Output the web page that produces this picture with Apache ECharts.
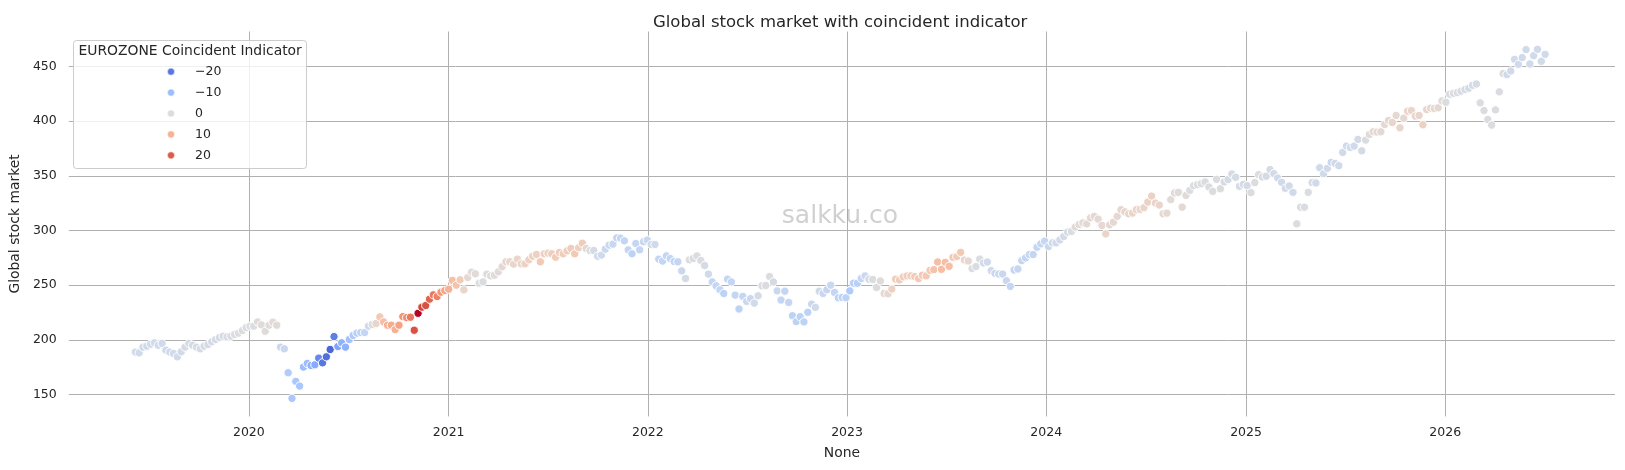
<!DOCTYPE html>
<html>
<head>
<meta charset="utf-8">
<title>Global stock market with coincident indicator</title>
<script src="https://cdn.jsdelivr.net/npm/echarts@6/dist/echarts.min.js"></script>
<style>
  html, body { margin: 0; padding: 0; background: #fff; }
  #chart { width: 1625px; height: 470px; }
</style>
</head>
<body>
<div id="chart"></div>
<script>
// weekly observations, first one on this date
const startDate = Date.UTC(2019, 5, 7);
const weekMs = 7 * 24 * 3600 * 1000;

// global stock market index, one value per week
const stockValues = [
  // 2019-06 .. 2020-02
  188.8, 188.1, 193.3, 194.2, 196.0, 197.3, 195.1, 196.7, 190.6, 188.8,
  187.5, 184.5, 189.1, 193.3, 196.7, 195.1, 193.3, 191.8, 194.2, 195.7,
  198.2, 200.3, 202.1, 203.3, 202.7, 203.3, 204.9, 206.1, 208.5, 211.2,
  212.5, 212.5, 216.4, 213.7, 207.9, 213.4, 216.1, 213.4,
  // crash and rebound 2020
  193.3, 191.8, 169.9, 146.5, 162.0, 157.7, 175.1, 178.4, 176.6, 177.2,
  183.3, 179.0, 184.5, 191.2, 203.0, 193.9, 197.3, 193.3, 200.3, 204.0,
  206.1, 206.7, 206.7, 212.5, 214.0, 214.9, 221.0, 216.4, 213.4, 213.4,
  209.4, 213.4, 221.3, 220.4, 220.7, 208.8, 224.3,
  // 2020-11 .. 2022-03
  229.9, 231.4, 237.2, 241.2, 239.6, 243.6, 245.1, 246.3, 254.3, 250.0,
  254.9, 245.7, 257.0, 261.9, 260.4, 251.8, 253.0, 260.1, 258.5, 259.1,
  262.2, 266.8, 271.4, 271.4, 269.2, 273.8, 269.5, 269.5, 273.2, 276.5,
  278.1, 271.4, 278.7, 279.3, 278.7, 275.6, 279.9, 278.7, 281.4, 283.6,
  278.7, 284.2, 288.4, 283.6, 281.7, 281.7, 276.5, 277.5, 282.9, 286.6,
  287.5, 293.3, 293.0, 290.6, 282.3, 278.7, 288.1, 282.3, 289.7, 291.2,
  287.2, 287.2, 273.8, 272.0, 276.8, 274.4, 271.7, 271.4, 263.1, 256.1,
  273.2, 274.4, 276.8, 272.6, 268.0, 260.1,
  // 2022-04 .. 2023-09
  253.0, 249.4, 245.8, 242.4, 255.5, 253.0, 240.9, 228.2, 239.7, 235.2,
  237.6, 233.6, 240.3, 249.4, 249.7, 257.9, 253.0, 244.8, 236.4, 244.5,
  234.2, 222.1, 216.7, 221.2, 216.4, 225.2, 232.7, 229.7, 244.5, 242.4,
  245.8, 250.0, 243.3, 238.5, 238.8, 238.5, 244.8, 251.8, 251.8, 256.1,
  258.5, 255.5, 255.2, 247.9, 253.9, 242.4, 242.1, 246.4, 255.5, 254.8,
  257.6, 258.5, 258.5, 257.9, 256.1, 259.1, 258.5, 263.6, 264.2, 271.2,
  264.5, 270.9, 267.3, 275.5, 276.1, 280.0, 273.0, 272.1, 265.2, 267.0,
  273.9, 270.3, 271.2,
  // 2023-09 .. 2025-02
  263.3, 260.8, 260.2, 260.2, 254.1, 248.9, 263.9, 264.8, 272.5, 274.9,
  278.0, 278.0, 284.7, 287.8, 290.2, 285.3, 288.7, 288.7, 291.4, 294.5,
  298.5, 299.1, 303.1, 305.5, 307.0, 306.1, 311.6, 312.9, 310.4, 304.6,
  296.9, 305.2, 307.6, 312.9, 319.0, 317.1, 315.3, 315.9, 319.0, 319.3,
  320.8, 326.0, 331.5, 325.1, 323.3, 315.3, 315.9, 328.2, 334.3, 334.9,
  321.4, 332.1, 336.7, 341.0, 341.9, 342.8, 344.4, 339.8, 335.8, 346.8,
  338.2, 344.4, 346.5, 351.7, 348.7, 340.4, 342.2, 341.0, 334.6, 343.8,
  351.1, 349.0, 349.6, 355.7, 352.0,
  // 2025-02 .. 2026-07
  348.0, 344.1, 338.6, 340.7, 334.9, 306.1, 321.3, 321.3, 334.9, 343.8,
  343.5, 357.4, 352.0, 356.8, 362.3, 361.4, 359.3, 371.4, 377.2, 376.0,
  377.2, 383.3, 372.9, 382.7, 387.8, 390.3, 390.0, 390.3, 397.0, 400.6,
  398.8, 405.2, 393.9, 402.7, 409.1, 409.7, 404.6, 405.2, 396.7, 410.6,
  411.9, 411.6, 412.2, 418.5, 417.3, 424.6, 425.5, 426.1, 427.4, 428.9,
  430.1, 432.8, 434.0, 416.7, 409.7, 401.5, 396.4, 410.3, 426.8, 443.5,
  442.6, 445.9, 456.5, 452.0, 458.1, 465.4, 452.3, 459.9, 465.7, 454.7,
  461.1
];

// EUROZONE coincident indicator, same weeks
const indicatorValues = [
  -2, -2, -2, -2, -2, -2, -2, -2, -2, -2,
  -2, -2, -2, -1, -1, -1, -1, -1, -1, -1,
  -1, -1, -1, -1, -1, 0, 0, 0, 0, 0,
  0, 0, 1, 1, 1, 1, 1, 1,
  -3, -3, -7, -8, -8, -8, -10, -10, -12, -13,
  -18, -20, -21, -22, -19, -14, -12, -12, -9, -7,
  -6, -5, -4, -2, 0, 3, 6, 8, 10, 11,
  10, 12, 14, 15, 17, 21, 26,
  22, 21, 19, 17, 16, 14, 12, 10, 8, 7,
  5, 3, 2, 1, 1, 0, 0, 0, 1, 1,
  1, 2, 2, 3, 3, 3, 3, 4, 4, 4,
  4, 6, 4, 4, 5, 5, 5, 5, 5, 5,
  6, 4, 5, 2, 0, -1, -2, -2, -3, -3,
  -3, -4, -4, -4, -4, -5, -4, -4, -3, -3,
  -2, -2, -4, -4, -4, -4, -4, -4, -3, -1,
  0, 0, 0, 0, -1, -2,
  -4, -4, -4, -5, -4, -4, -4, -5, -4, -3,
  -3, -2, -1, 0, 0, 0, -1, -3, -4, -4,
  -4, -5, -5, -5, -5, -5, -3, -2, -2, -3,
  -4, -3, -4, -5, -5, -5, -7, -6, -6, -4,
  -3, -1, 0, 0, 1, 2, 2, 4, 5, 5,
  5, 5, 5, 5, 6, 6, 6, 6, 7, 8,
  8, 8, 8, 6, 5, 6, 3, 2, 0, 0,
  0, -2, -2,
  -2, -3, -3, -3, -3, -4, -4, -4, -4, -4,
  -4, -4, -4, -4, -4, -3, -2, -2, -2, -1,
  -1, 0, 1, 1, 1, 2, 2, 2, 2, 2,
  3, 2, 2, 2, 3, 3, 3, 3, 3, 3,
  3, 4, 4, 3, 3, 2, 2, 1, 1, 1,
  2, 1, 0, 0, 0, 0, 0, 0, 0, 0,
  0, -1, -1, -1, -1, -1, -1, -1, 0, 0,
  0, -1, -1, -1, -1,
  -2, -2, -2, -2, -2, 0, 0, 0, 0, -1,
  -2, -2, -2, -2, -3, -2, -2, -2, -2, -2,
  -2, -1, -1, 0, 1, 2, 2, 2, 2, 2,
  3, 2, 3, 2, 3, 3, 3, 3, 4, 3,
  2, 2, 2, 1, 0, 0, 0, 0, -1, -1,
  -1, -1, -1, 0, 0, 0, 0, 0, 0, 0,
  -2, -2, -2, -2, -2, -2, -2, -2, -2, -2,
  -2
];

const legendValues = [-20, -10, 0, 10, 20];
const hueMin = -25;
const hueMax = 26;

// matplotlib coolwarm, 33 evenly spaced stops
const coolwarm = [
  [59, 76, 192], [68, 90, 204], [77, 104, 215], [87, 117, 225], [98, 130, 234],
  [108, 142, 241], [119, 154, 247], [130, 165, 251], [141, 176, 254], [152, 185, 255],
  [163, 194, 255], [174, 201, 253], [184, 208, 249], [194, 213, 244], [204, 217, 238],
  [213, 219, 230], [221, 221, 221], [229, 216, 209], [236, 211, 197], [241, 204, 185],
  [245, 196, 173], [247, 187, 160], [247, 177, 148], [247, 166, 135], [244, 154, 123],
  [241, 141, 111], [236, 127, 99], [229, 112, 88], [222, 96, 77], [213, 80, 66],
  [203, 62, 56], [192, 40, 47], [180, 4, 38]
];
const coolwarmCss = coolwarm.map(c => 'rgb(' + c.join(',') + ')');

function hueColor(v) {
  let t = (v - hueMin) / (hueMax - hueMin);
  t = Math.max(0, Math.min(1, t));
  const pos = t * (coolwarm.length - 1);
  const i = Math.min(Math.floor(pos), coolwarm.length - 2);
  const f = pos - i;
  const c = coolwarm[i].map((a, k) => Math.round(a + (coolwarm[i + 1][k] - a) * f));
  return 'rgb(' + c.join(',') + ')';
}

const points = stockValues.map((v, i) => [startDate + i * weekMs, v, indicatorValues[i]]);

const textColor = '#262626';
const gridColor = '#b0b0b0';
const noLine = 'rgba(0,0,0,0)';
const font = 'DejaVu Sans';
// first and last tick sit on the plot edges: no line there
const edgeFreeGrid = [noLine, gridColor, gridColor, gridColor, gridColor, gridColor, gridColor, gridColor, noLine];

// legend box (seaborn style), drawn with graphic
const legendGraphic = [
  {
    type: 'rect',
    shape: { x: 73.5, y: 40.5, width: 233, height: 128, r: 3 },
    style: { fill: 'rgba(255,255,255,0.8)', stroke: '#cccccc', lineWidth: 1 },
    z: 100,
  },
  {
    type: 'text',
    x: 78.5,
    y: 51,
    style: {
      text: 'EUROZONE Coincident Indicator',
      font: '13.9px "' + font + '"',
      fill: textColor,
      verticalAlign: 'middle',
    },
    z: 101,
  },
];
legendValues.forEach((v, i) => {
  const y = 71.7 + i * 20.9;
  legendGraphic.push({
    type: 'circle',
    shape: { cx: 171, cy: y, r: 3.6 },
    style: { fill: hueColor(v), stroke: '#fff', lineWidth: 0.6 },
    z: 101,
  });
  legendGraphic.push({
    type: 'text',
    x: 195,
    y: y,
    style: {
      text: (v < 0 ? '\u2212' + Math.abs(v) : String(v)),
      font: '12.5px "' + font + '"',
      fill: textColor,
      verticalAlign: 'middle',
    },
    z: 101,
  });
});

const chart = echarts.init(document.getElementById('chart'), null, { renderer: 'canvas' });
chart.setOption({
  backgroundColor: '#fff',
  animation: false,
  textStyle: { fontFamily: font },
  // centred over the plot area, not the page
  title: {
    text: 'Global stock market with coincident indicator',
    left: 648,
    top: 9,
    textStyle: { fontFamily: font, fontSize: 16.5, fontWeight: 'normal', color: textColor },
  },
  grid: { left: 68, right: 10, top: 31.5, bottom: 53.6 },
  xAxis: {
    type: 'time',
    min: Date.UTC(2019, 1, 5),
    max: Date.UTC(2026, 10, 8),
    splitNumber: 8,
    minInterval: 365 * 24 * 3600 * 1000,
    maxInterval: 366 * 24 * 3600 * 1000,
    name: 'None',
    nameLocation: 'middle',
    nameGap: 30,
    nameTextStyle: { fontFamily: font, fontSize: 13.9, color: textColor },
    axisLine: { show: false },
    axisTick: { show: false },
    axisLabel: {
      formatter: '{yyyy}',
      fontFamily: font,
      fontSize: 12.5,
      color: textColor,
      margin: 10,
      showMinLabel: false,
      showMaxLabel: false,
    },
    splitLine: {
      show: true,
      lineStyle: { color: edgeFreeGrid, width: 1 },
    },
  },
  yAxis: {
    type: 'value',
    min: 130,
    max: 482,
    splitNumber: 7,
    name: 'Global stock market',
    nameLocation: 'middle',
    nameRotate: 90,
    nameGap: 45,
    nameTextStyle: { fontFamily: font, fontSize: 13.9, color: textColor },
    axisLine: { show: false },
    axisTick: { show: false },
    axisLabel: {
      fontFamily: font,
      fontSize: 12.5,
      color: textColor,
      margin: 12,
      showMinLabel: false,
      showMaxLabel: false,
    },
    splitLine: {
      show: true,
      lineStyle: { color: edgeFreeGrid, width: 1 },
    },
  },
  visualMap: {
    show: false,
    type: 'continuous',
    seriesIndex: 0,
    dimension: 2,
    min: hueMin,
    max: hueMax,
    inRange: { color: coolwarmCss },
  },
  graphic: [
    {
      type: 'text',
      x: 840,
      y: 216,
      style: {
        text: 'salkku.co',
        font: '25px "' + font + '"',
        fill: 'rgba(150,150,150,0.45)',
        align: 'center',
        verticalAlign: 'middle',
      },
      z: 50,
    },
  ].concat(legendGraphic),
  series: [
    {
      type: 'scatter',
      data: points,
      symbolSize: 8.3,
      itemStyle: { borderColor: '#ffffff', borderWidth: 1, opacity: 1 },
      emphasis: { disabled: true },
    },
  ],
});
</script>
</body>
</html>
